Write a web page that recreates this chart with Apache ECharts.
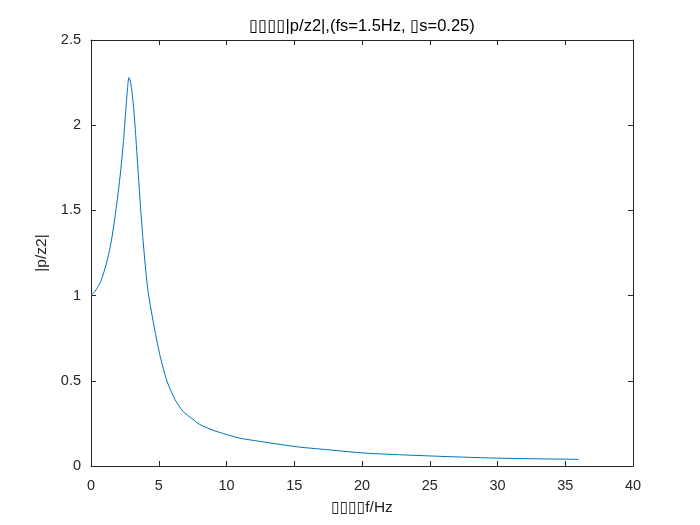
<!DOCTYPE html>
<html>
<head>
<meta charset="utf-8">
<script src="https://cdn.jsdelivr.net/npm/echarts@6/dist/echarts.min.js"></script>
<style>html,body{margin:0;padding:0;background:#fff}#c{width:700px;height:525px}</style>
</head>
<body>
<div id="c"></div>
<script>
var titleText = '\u25AF\u25AF\u25AF\u25AF|p/z2|,(fs=1.5Hz, \u25AFs=0.25)';
var xLabel = '\u25AF\u25AF\u25AF\u25AFf/Hz';
var yLabel = '|p/z2|';
var freq = [0, 0.25, 0.5, 0.75, 1.0, 1.25, 1.5, 1.75, 2.0, 2.2, 2.4, 2.55, 2.7, 2.8, 2.9, 3.0, 3.15, 3.3, 3.5, 3.7, 3.9, 4.2, 4.7, 5.1, 5.6, 6.2, 6.8, 7.5, 8.0, 9.0, 10, 11, 12.5, 14, 15.5, 17, 20, 22.5, 25, 27.5, 30, 33, 36];
var ratio = [1.00, 1.02, 1.05, 1.09, 1.15, 1.225, 1.32, 1.45, 1.60, 1.74, 1.91, 2.07, 2.22, 2.28, 2.26, 2.21, 2.10, 1.94, 1.70, 1.47, 1.27, 1.03, 0.80, 0.645, 0.50, 0.39, 0.32, 0.275, 0.245, 0.21, 0.185, 0.163, 0.144, 0.126, 0.110, 0.099, 0.077, 0.067, 0.059, 0.052, 0.046, 0.042, 0.039];

var data = freq.map(function (f, i) { return [f, ratio[i]]; });
var font = '"Liberation Sans", Helvetica, Arial, "DejaVu Sans", sans-serif';
var ink = '#262626';

var chart = echarts.init(document.getElementById('c'), null, {renderer: 'canvas'});
function axisCommon(show) {
  return {
    axisLine: {show: true, onZero: false, lineStyle: {color: ink, width: 1}},
    axisTick: {show: true, inside: true, length: 5, lineStyle: {color: ink}},
    splitLine: {show: false},
    axisLabel: {show: show, color: ink, fontSize: 14.5, fontFamily: font}
  };
}
var xb = axisCommon(true), xt = axisCommon(false), yl = axisCommon(true), yr = axisCommon(false);
chart.setOption({
  animation: false,
  backgroundColor: '#fff',
  grid: {left: 91, right: 67, top: 40, bottom: 59, containLabel: false},
  graphic: [{
    type: 'text', x: 362, y: 26,
    style: {text: titleText, fontSize: 16.5, fontFamily: font, fill: '#000', align: 'center', verticalAlign: 'middle'}
  }],
  xAxis: [
    Object.assign({type: 'value', min: 0, max: 40, interval: 5, position: 'bottom',
      name: xLabel, nameLocation: 'middle', nameGap: 34,
      nameTextStyle: {color: ink, fontSize: 15.5, fontFamily: font}}, xb, {axisLabel: Object.assign(xb.axisLabel, {margin: 12})}),
    Object.assign({type: 'value', min: 0, max: 40, interval: 5, position: 'top'}, xt)
  ],
  yAxis: [
    Object.assign({type: 'value', min: 0, max: 2.5, interval: 0.5, position: 'left',
      name: yLabel, nameLocation: 'middle', nameGap: 37,
      nameTextStyle: {color: ink, fontSize: 15.5, fontFamily: font}}, yl, {axisLabel: Object.assign(yl.axisLabel, {margin: 10})}),
    Object.assign({type: 'value', min: 0, max: 2.5, interval: 0.5, position: 'right'}, yr)
  ],
  series: [{
    type: 'line', data: data, smooth: 0.25, showSymbol: false, symbol: 'none',
    xAxisIndex: 0, yAxisIndex: 0,
    lineStyle: {color: '#0072BD', width: 1}
  }]
});
</script>
</body>
</html>
